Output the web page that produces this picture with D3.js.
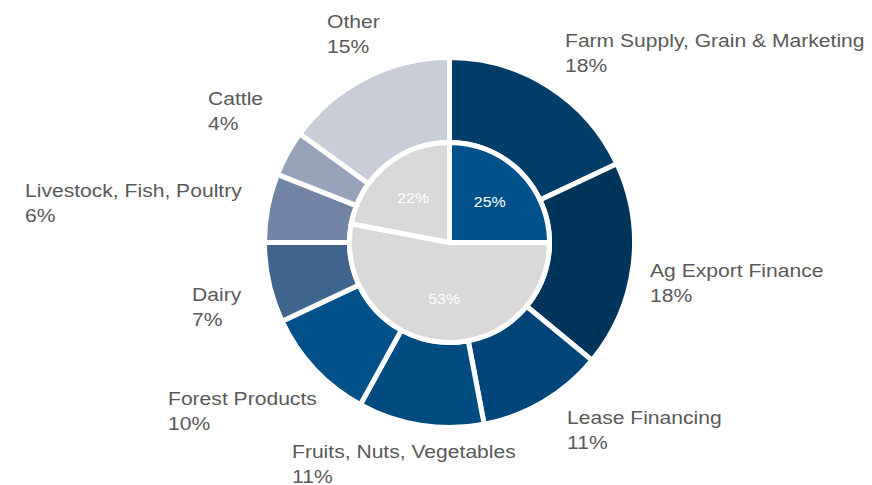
<!DOCTYPE html>
<html>
<head>
<meta charset="utf-8">
<script src="https://cdn.jsdelivr.net/npm/d3@7"></script>
<style>
  html, body { margin: 0; padding: 0; background: #ffffff; }
  svg { display: block; }
  text { font-family: "Liberation Sans", Arial, sans-serif; }
</style>
</head>
<body>
<svg id="chart" width="872" height="485"></svg>
<script>
// Portfolio by commodity (outer ring) and by group (inner pie)
const sectors = [
  "Farm Supply, Grain & Marketing", "Ag Export Finance", "Lease Financing",
  "Fruits, Nuts, Vegetables", "Forest Products", "Dairy",
  "Livestock, Fish, Poultry", "Cattle", "Other"
];
const sectorShares = [18, 18, 11, 11, 10, 7, 6, 4, 15];
const sectorColors = [
  "#003d68", "#00355b", "#00457a", "#004b80", "#00508a",
  "#40668f", "#7285a6", "#95a2ba", "#c8cdd8"
];

const groups = ["A", "B", "C"];
const groupShares = [25, 53, 22];
const groupColors = ["#005089", "#d9d9d9", "#d9d9d9"];

// Label anchor points (left edge of text, first baseline)
const labelSpots = [
  [565, 47], [650, 277], [567, 424], [292, 458], [168, 405],
  [192, 301], [25, 197], [208, 105], [327, 28]
];

// Text is set slightly wide
const stretch = 1.14;

const svg = d3.select("#chart");
const cx = 449.5, cy = 242.5;
const rInner = 100, rOuter = 185;

const g = svg.append("g").attr("transform", `translate(${cx},${cy})`);

const pie = d3.pie().sort(null).value(d => d);

// Outer ring
const ringArc = d3.arc().innerRadius(rInner).outerRadius(rOuter);
g.selectAll("path.ring")
  .data(pie(sectorShares))
  .join("path")
  .attr("class", "ring")
  .attr("d", ringArc)
  .attr("fill", (d, i) => sectorColors[i])
  .attr("stroke", "#ffffff")
  .attr("stroke-width", 5)
  .attr("stroke-linejoin", "miter");

// Inner pie
const pieArc = d3.arc().innerRadius(0).outerRadius(rInner);
const labelArc = d3.arc().innerRadius(114).outerRadius(0);
const innerData = pie(groupShares);
g.selectAll("path.core")
  .data(innerData)
  .join("path")
  .attr("class", "core")
  .attr("d", pieArc)
  .attr("fill", (d, i) => groupColors[i])
  .attr("stroke", "#ffffff")
  .attr("stroke-width", 5)
  .attr("stroke-linejoin", "miter");

g.selectAll("text.core-label")
  .data(innerData)
  .join("text")
  .attr("class", "core-label")
  .attr("transform", d => {
    const [x, y] = labelArc.centroid(d);
    return `translate(${x},${y}) scale(${stretch},1)`;
  })
  .attr("text-anchor", "middle")
  .attr("dy", "0.35em")
  .attr("fill", "#ffffff")
  .attr("font-size", 14)
  .text(d => d.data + "%");

// Outer labels: category name and share on two lines
const labels = svg.selectAll("text.sector-label")
  .data(sectors)
  .join("text")
  .attr("class", "sector-label")
  .attr("transform", (d, i) =>
    `translate(${labelSpots[i][0]},${labelSpots[i][1]}) scale(${stretch},1)`)
  .attr("fill", "#595959")
  .attr("font-size", 18.5);

labels.append("tspan")
  .attr("x", 0)
  .text(d => d);
labels.append("tspan")
  .attr("x", 0)
  .attr("dy", 25.5)
  .text((d, i) => sectorShares[i] + "%");
</script>
</body>
</html>
